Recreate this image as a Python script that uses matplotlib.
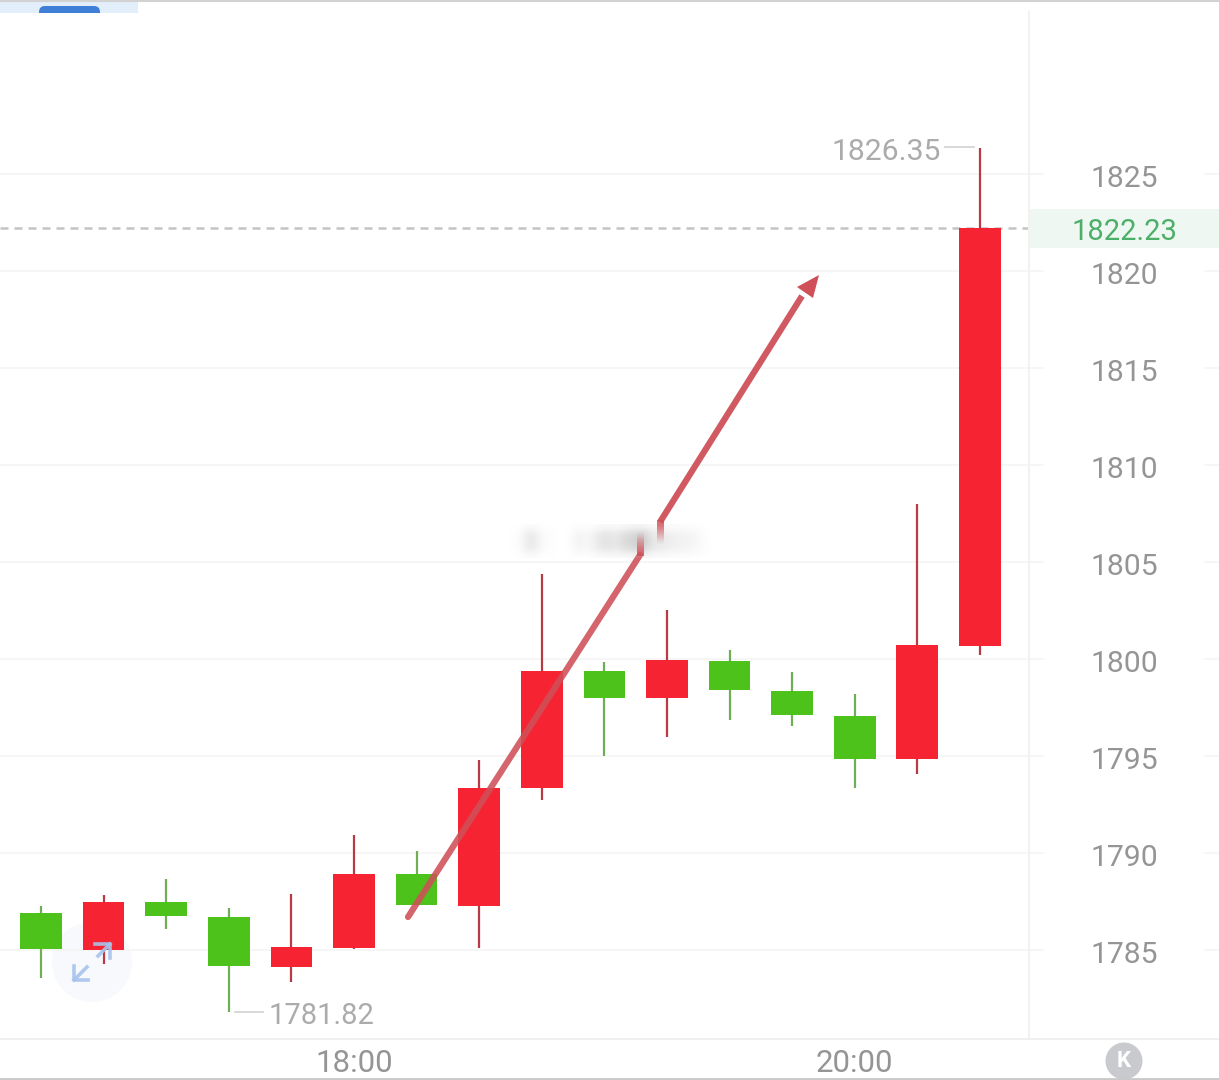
import matplotlib
matplotlib.use('Agg')
import matplotlib.pyplot as plt
import numpy as np
from matplotlib.patches import Circle, FancyBboxPatch, Polygon, Rectangle
from matplotlib.transforms import ScaledTranslation

plt.rcParams['font.family'] = ['Roboto', 'DejaVu Sans']

# candles
opens = [1786.91, 1785.00, 1787.47, 1786.70, 1784.12, 1785.10, 1788.92, 1787.27,
         1793.35, 1799.38, 1797.99, 1799.90, 1798.35, 1797.06, 1794.85, 1800.67]
closes = [1785.05, 1787.47, 1786.75, 1784.18, 1785.15, 1788.92, 1787.32, 1793.35,
          1799.38, 1797.99, 1799.95, 1798.40, 1797.10, 1794.85, 1800.72, 1822.23]
highs = [1787.27, 1787.84, 1788.66, 1787.16, 1787.89, 1790.93, 1790.10, 1794.79,
         1804.38, 1799.85, 1802.53, 1800.46, 1799.33, 1798.20, 1807.99, 1826.35]
lows = [1783.56, 1784.28, 1786.08, 1781.82, 1783.35, 1785.05, 1787.32, 1785.10,
        1792.73, 1795.00, 1795.98, 1796.86, 1796.55, 1793.35, 1794.07, 1800.20]
price_ticks = [1785, 1790, 1795, 1800, 1805, 1810, 1815, 1820, 1825]
time_ticks = [5, 13]
time_labels = ['18:00', '20:00']
last_price = 1822.23
high_price = 1826.35
low_price = 1781.82

RED = '#f62433'
GREEN = '#4dc21b'
RED_WICK = '#b83a44'
GREEN_WICK = '#6fae55'

fig = plt.figure(figsize=(12.19, 10.8), dpi=100)
ax = fig.add_axes([0, 0, 1, 1])
ax.set_xlim(-0.655, 18.82)
ax.set_ylim(1778.30, 1833.97)
for s in ax.spines.values():
    s.set_visible(False)

# overlay in picture pixels for the app furniture
ov = fig.add_axes([0, 0, 1, 1], facecolor='none')
ov.set_xlim(0, 1219)
ov.set_ylim(1080, 0)
ov.axis('off')

# faint price grid, broken where the right hand labels sit
trans = ax.get_yaxis_transform()
for p in price_ticks:
    ax.plot([0, 1043 / 1219], [p, p], color='#f5f5f5', lw=1.2, transform=trans, zorder=1)
    ax.plot([1205 / 1219, 1], [p, p], color='#f5f5f5', lw=1.2, transform=trans, zorder=1)
ax.plot([0, 1029 / 1219], [last_price, last_price], color='#c4c4c4', lw=1.8,
        dashes=(3.2, 2.4), transform=trans, zorder=1)

# expand button background sits behind the candles
ax.add_patch(Circle((92, 962), 40, color='#f7f9fd', lw=0, transform=ov.transData, zorder=0.5))

# candles
for i in range(len(opens)):
    up = closes[i] >= opens[i]
    ax.vlines(i, lows[i], highs[i], color=RED_WICK if up else GREEN_WICK, lw=1.6, zorder=2)
    ax.bar(i, abs(closes[i] - opens[i]), bottom=min(opens[i], closes[i]), width=0.665,
           color=RED if up else GREEN, zorder=3)

# axis labels drawn inside the axes
ax.yaxis.tick_right()
ax.set_yticks(price_ticks)
ax.set_yticklabels([str(p) for p in price_ticks])
ax.set_xticks(time_ticks)
ax.set_xticklabels(time_labels)
ax.tick_params(axis='y', length=0, pad=-92.5, labelsize=21.7, labelcolor='#959595')
ax.tick_params(axis='x', length=0, pad=-22.3, labelsize=22.5, labelcolor='#959595')
down = ScaledTranslation(0, -1.5 / 72, fig.dpi_scale_trans)
for lab in ax.get_yticklabels():
    lab.set_transform(lab.get_transform() + down)

# high / low markers
ax.text(14.38, high_price - 0.22, '1826.35', color='#ababab', fontsize=21.7, ha='right', va='center', zorder=5)
ax.plot([14.45, 14.9], [high_price + 0.05] * 2, color='#d5d5d5', lw=1.3, zorder=2)
ax.text(3.64, low_price - 0.22, '1781.82', color='#ababab', fontsize=21, ha='left', va='center', zorder=5)
ax.plot([3.1, 3.55], [low_price, low_price], color='#d5d5d5', lw=1.3, zorder=2)

# frame lines and last price badge
ov.plot([1029, 1029], [12, 1039], color='#f2f2f2', lw=1.5)
ov.plot([0, 1219], [1039, 1039], color='#efefef', lw=1.3)
ov.plot([0, 1219], [1078.5, 1078.5], color='#c9c9c9', lw=2)
ov.plot([0, 1219], [0.5, 0.5], color='#d2d2d2', lw=1.5)
ov.add_patch(Rectangle((1030, 209), 189, 39, color='#eff7f2', lw=0))
ov.text(1124, 232, '1822.23', color='#4caf68', fontsize=21, ha='center', va='center')

# tab at the top
ov.add_patch(Rectangle((0, 1), 138, 12, color='#e3eefb', lw=0))
ov.add_patch(FancyBboxPatch((39, 6), 61, 16, boxstyle='round,pad=0,rounding_size=6', color='#3f80d6', lw=0))
ov.add_patch(Rectangle((35, 13), 70, 10, color='white', lw=0))

# expand button arrows
icon = '#a8c3ec'
ov.plot([74, 87], [980, 967], color=icon, lw=2.6, alpha=0.9)
ov.plot([74, 74, 88], [966, 980, 980], color=icon, lw=2.6, alpha=0.9)
ov.plot([98, 110], [956, 944], color=icon, lw=2.6, alpha=0.9)
ov.plot([95, 110, 110], [944, 944, 958], color=icon, lw=2.6, alpha=0.9)

# drawn-on arrow, interrupted by the watermark
arrow = '#cf5058'
ov.plot([408, 640], [917, 555], color=arrow, lw=4.5, alpha=0.88, solid_capstyle='round')
ov.plot([660, 802], [522, 296], color=arrow, lw=4.5, alpha=0.95, solid_capstyle='butt')
ov.add_patch(Polygon([(819, 275), (797, 287), (813, 298)], closed=True, color=arrow, lw=0))

# blurred watermark
profile = np.array([0, .08, .38, .08, .03, 0, 0, .18, .08, .27, .42, .3, .5, .6, .7, .3, .3, .22, .18, .15, .08, 0])
smudge = np.ones((6, len(profile), 4))
smudge[..., :3] = 0.72
for r, k in enumerate([0.2, 0.8, 1, 1, 0.8, 0.2]):
    smudge[r, :, 3] = profile * k
ov.imshow(smudge, extent=(508, 714, 558, 524), aspect='auto', interpolation='bicubic', zorder=4)

# arrow pieces smeared into the watermark
fade = np.ones((8, 1, 4))
fade[..., :3] = matplotlib.colors.to_rgb(arrow)
fade[:, 0, 3] = np.array([0, .1, .25, .4, .55, .7, .8, .85])
ov.imshow(fade, extent=(637, 644, 556, 530), aspect='auto', interpolation='bilinear', zorder=4.5)
ov.imshow(fade[::-1], extent=(657, 664, 546, 520), aspect='auto', interpolation='bilinear', zorder=4.5)
ov.set_xlim(0, 1219)
ov.set_ylim(1080, 0)

# collapse button
ov.add_patch(Circle((1124, 1061), 18.5, color='#c8cacd', lw=0))
ov.text(1124, 1061, 'K', color='white', fontsize=16, fontweight='bold', ha='center', va='center')

fig.savefig('out.png', dpi=100, facecolor='white')
